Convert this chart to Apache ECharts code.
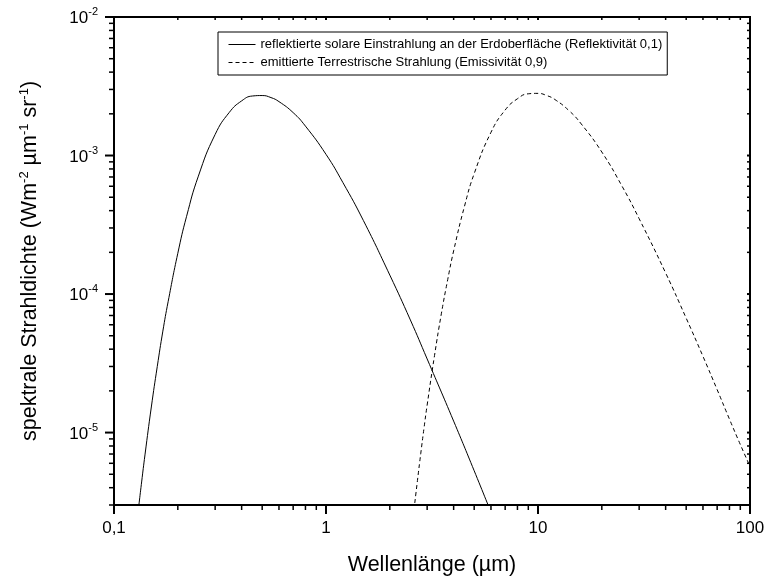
<!DOCTYPE html>
<html><head><meta charset="utf-8">
<script src="https://cdn.jsdelivr.net/npm/echarts@6.0.0/dist/echarts.min.js"></script>
<style>html,body{margin:0;padding:0;background:#fff}#c{width:767px;height:579px}</style>
</head><body><div id="c"></div>
<script>
// ---- data ----
const seriesNames = [
  'reflektierte solare Einstrahlung an der Erdoberfläche (Reflektivität 0,1)',
  'emittierte Terrestrische Strahlung (Emissivität 0,9)'
];
const solarWavelength = [0.13, 0.135, 0.14, 0.15, 0.16, 0.17, 0.18, 0.2, 0.22, 0.25, 0.3, 0.35, 0.4, 0.45, 0.5, 0.55, 0.6, 0.7, 0.8, 1.0, 1.2, 1.5, 2, 2.5, 3, 4, 5, 6];
const solarRadiance   = [2.7e-6, 4.4e-6, 6.9e-6, 1.53e-5, 3.0e-5, 5.4e-5, 8.8e-5, 1.97e-4, 3.64e-4, 7.1e-4, 1.42e-3, 2.05e-3, 2.48e-3, 2.69e-3, 2.71e-3, 2.62e-3, 2.45e-3, 2.04e-3, 1.63e-3, 1.02e-3, 6.4e-4, 3.4e-4, 1.37e-4, 6.5e-5, 3.4e-5, 1.21e-5, 5.3e-6, 2.66e-6];
const terrWavelength  = [2.6, 2.7, 2.8, 2.9, 3, 3.25, 3.5, 3.75, 4, 4.5, 5, 6, 7, 8, 9, 10, 11, 12, 14, 16, 20, 25, 30, 40, 50, 60, 70, 80, 90, 100];
const terrRadiance    = [2.77e-6, 4.5e-6, 7.1e-6, 1.08e-5, 1.58e-5, 3.6e-5, 7.2e-5, 1.27e-4, 2.05e-4, 4.3e-4, 7.4e-4, 1.47e-3, 2.13e-3, 2.57e-3, 2.79e-3, 2.81e-3, 2.71e-3, 2.54e-3, 2.11e-3, 1.69e-3, 1.06e-3, 5.95e-4, 3.5e-4, 1.42e-4, 6.7e-5, 3.55e-5, 2.04e-5, 1.25e-5, 8.2e-6, 5.7e-6];

// ---- axes ----
const xMin = 0.1, xMax = 100, yMin = 3e-6, yMax = 1e-2;
const xTickValues = [0.1, 1, 10, 100];
const xTickLabels = ['0,1', '1', '10', '100'];
const yTickValues = [1e-5, 1e-4, 1e-3, 1e-2];
const yTickExponents = ['-5', '-4', '-3', '-2'];
const xMinorDecades = [0.1, 1, 10];
const yMinorDecades = [1e-6, 1e-5, 1e-4, 1e-3];
const minorMultipliers = [2, 3, 4, 5, 6, 7, 8, 9];

const FONT = 'Liberation Sans';

const tickData = [];
xTickValues.forEach(v => tickData.push([v, yMin, 0, 1]));
xMinorDecades.forEach(d => minorMultipliers.forEach(m => tickData.push([d * m, yMin, 0, 0])));
yTickValues.forEach(v => tickData.push([xMin, v, 1, 1]));
yMinorDecades.forEach(d => minorMultipliers.forEach(m => {
  const v = d * m;
  if (v >= yMin * 0.999 && v <= yMax) tickData.push([xMin, v, 1, 0]);
}));

function renderTick(params, api) {
  const cs = params.coordSys;
  const axis = api.value(2), major = api.value(3) === 1;
  const out = major ? 9 : 5, inn = 3;
  const style = { stroke: '#000', lineWidth: major ? 2 : 1.5 };
  if (axis === 0) {
    const x = api.coord([api.value(0), yMin])[0];
    const yb = cs.y + cs.height, yt = cs.y;
    return { type: 'group', children: [
      { type: 'line', shape: { x1: x, y1: yb, x2: x, y2: yb + out }, style: style },
      { type: 'line', shape: { x1: x, y1: yt, x2: x, y2: yt + inn }, style: style }
    ]};
  } else {
    const y = api.coord([xMin, api.value(1)])[1];
    const xl = cs.x, xr = cs.x + cs.width;
    return { type: 'group', children: [
      { type: 'line', shape: { x1: xl, y1: y, x2: xl - out, y2: y }, style: style },
      { type: 'line', shape: { x1: xr, y1: y, x2: xr - inn, y2: y }, style: style }
    ]};
  }
}

function isDecade(v) {
  const l = Math.log10(v);
  return Math.abs(l - Math.round(l)) < 1e-6 ? Math.round(l) : null;
}

const chart = echarts.init(document.getElementById('c'), null, { renderer: 'canvas' });
chart.setOption({
  animation: false,
  backgroundColor: '#fff',
  grid: { left: 114, right: 17, top: 17, bottom: 74, outerBoundsMode: 'none', containLabel: false,
          show: true, borderColor: '#000', borderWidth: 2, backgroundColor: 'transparent' },
  legend: {
    data: seriesNames,
    orient: 'vertical',
    left: 218, top: 32,
    padding: [6, 5, 6, 10],
    itemGap: 5,
    itemWidth: 27, itemHeight: 14,
    itemStyle: { opacity: 0 },
    lineStyle: { width: 1 },
    borderColor: '#000', borderWidth: 1,
    textStyle: { fontFamily: FONT, fontSize: 13, color: '#000' }
  },
  xAxis: {
    type: 'log', logBase: 10, min: xMin, max: xMax,
    axisLine: { show: true, lineStyle: { color: '#000', width: 2 } },
    axisTick: { show: false },
    splitLine: { show: false },
    axisLabel: {
      margin: 15, fontSize: 17, color: '#000', fontFamily: FONT,
      formatter: function (v) {
        const k = isDecade(v);
        if (k === null) return '';
        const i = xTickValues.findIndex(t => Math.round(Math.log10(t)) === k);
        return i >= 0 ? xTickLabels[i] : '';
      }
    },
    name: 'Wellenlänge (µm)', nameLocation: 'middle', nameGap: 49,
    nameTextStyle: { fontSize: 21.5, color: '#000', fontFamily: FONT }
  },
  yAxis: {
    type: 'log', logBase: 10, min: yMin, max: yMax,
    axisLine: { show: true, lineStyle: { color: '#000', width: 2 } },
    axisTick: { show: false },
    splitLine: { show: false },
    axisLabel: {
      margin: 16, color: '#000', fontFamily: FONT, fontSize: 17,
      formatter: function (v) {
        const k = isDecade(v);
        if (k === null) return '';
        const i = yTickValues.findIndex(t => Math.round(Math.log10(t)) === k);
        return i >= 0 ? '{b|10}{s|' + yTickExponents[i] + '}' : '';
      },
      rich: {
        b: { fontSize: 17, fontFamily: FONT, color: '#000', padding: [3, 0, 0, 0] },
        s: { fontSize: 11, fontFamily: FONT, color: '#000', padding: [0, 0, 10, 0] }
      }
    },
    name: 'spektrale Strahldichte (Wm{s|-2} µm{s|-1} sr{s|-1})',
    nameLocation: 'middle', nameGap: 72,
    nameTextStyle: {
      fontSize: 21.5, color: '#000', fontFamily: FONT,
      rich: { s: { fontSize: 13, fontFamily: FONT, color: '#000', padding: [0, 0, 11, 0] } }
    }
  },
  series: [
    {
      name: seriesNames[0], type: 'line', smooth: true, symbol: 'none',
      data: solarWavelength.map((x, i) => [x, solarRadiance[i]]),
      lineStyle: { color: '#000', width: 1 }, itemStyle: { color: '#000' }
    },
    {
      name: seriesNames[1], type: 'line', smooth: true, symbol: 'none',
      data: terrWavelength.map((x, i) => [x, terrRadiance[i]]),
      lineStyle: { color: '#000', width: 1, type: [4, 3] }, itemStyle: { color: '#000' }
    },
    {
      type: 'custom', renderItem: renderTick, data: tickData, clip: false, silent: true, z: 10
    }
  ]
});
</script></body></html>
